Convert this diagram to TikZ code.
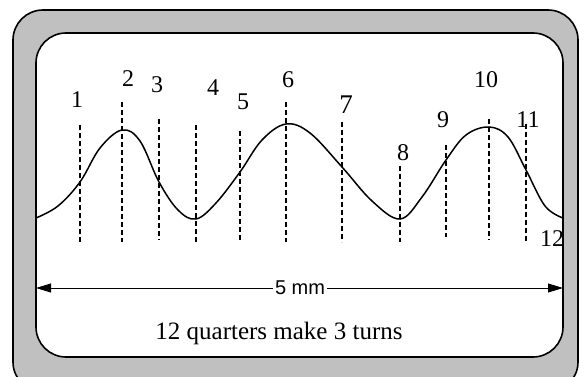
\documentclass[tikz,border=0pt]{standalone}
\usepackage{fontspec}
\setmainfont{Liberation Serif}
\newfontfamily\armfont{Liberation Sans}
\usetikzlibrary{arrows.meta}

\begin{document}
\begin{tikzpicture}[x=1pt,y=-1pt,%%
  frameStyle/.style={line width=1.6pt,rounded corners=30pt},%%
  waveStyle/.style={line width=1.5pt},%%
  quarterStyle/.style={dashed,line width=1.2pt,dash pattern=on 5pt off 3pt},%%
  labelStyle/.style={inner sep=1pt,font=\fontsize{24}{26}\selectfont},%%
  arrowStyle/.style={line width=0.9pt,-{Triangle[length=15pt,width=9pt]}}%%
]
\useasboundingbox (0,0) rectangle (584,377);
%%
%% The frame round the picture.
\draw[frameStyle,fill={rgb,255:red,192;green,192;blue,192}] (13,10) rectangle (578,392);
\draw[frameStyle,fill=white] (36,33) rectangle (563,357);
%%
%% The wave.
\draw[waveStyle] plot[smooth,tension=0.6] coordinates {
  (36,218) (58,206) (80,182) (100,148) (122,130) (140,141) (159,182)
  (178,210) (196,219) (216,203) (240,172) (262,140) (286,124) (310,133)
  (342,167) (372,201) (400,219) (422,197) (446,160) (466,135) (489,127)
  (508,137) (526,170) (545,206) (563,218)};
%%
%% Dashed lines at the quarters: x, top, bottom.
\foreach \q/\x/\top/\bot in {1/80/125/242, 2/122/102/242, 3/159/119/240,
  4/196/125/242, 5/240/131/242, 6/286/102/242, 7/342/122/242,
  8/400/166/242, 9/446/145/237, 10/489/119/240, 11/526/124/242} {
  \coordinate (top\q) at (\x,\top);
  \coordinate (bot\q) at (\x,\bot);
  \draw[quarterStyle] (top\q) -- (bot\q);
}
%%
%% Numbers of the quarters.
\node (Q1) at (77,100) [labelStyle] {1};
\node (Q2) at (128,79) [labelStyle] {2};
\node (Q3) at (157,85) [labelStyle] {3};
\node (Q4) at (213,88) [labelStyle] {4};
\node (Q5) at (243,102) [labelStyle] {5};
\node (Q6) at (288,80) [labelStyle] {6};
\node (Q7) at (346,105) [labelStyle,font=\fontsize{27}{29}\selectfont] {7};
\node (Q8) at (403,153) [labelStyle] {8};
\node (Q9) at (443,120) [labelStyle] {9};
\node (Q10) at (486,80) [labelStyle] {10};
\node (Q11) at (528,120) [labelStyle] {11};
\node (Q12) at (552,239) [labelStyle] {12};
%%
%% The length arrow.
\coordinate (armL) at (36,288);
\coordinate (armR) at (563,288);
\node (len) at (300,288) [inner sep=2pt,font=\armfont\fontsize{20}{22}\selectfont] {5 mm};
\draw[arrowStyle] (len) -- (armL);
\draw[arrowStyle] (len) -- (armR);
%%
%% Caption.
\node (cap) at (279,333) [font=\fontsize{25}{27}\selectfont] {12 quarters make 3 turns};
\end{tikzpicture}
\end{document}
